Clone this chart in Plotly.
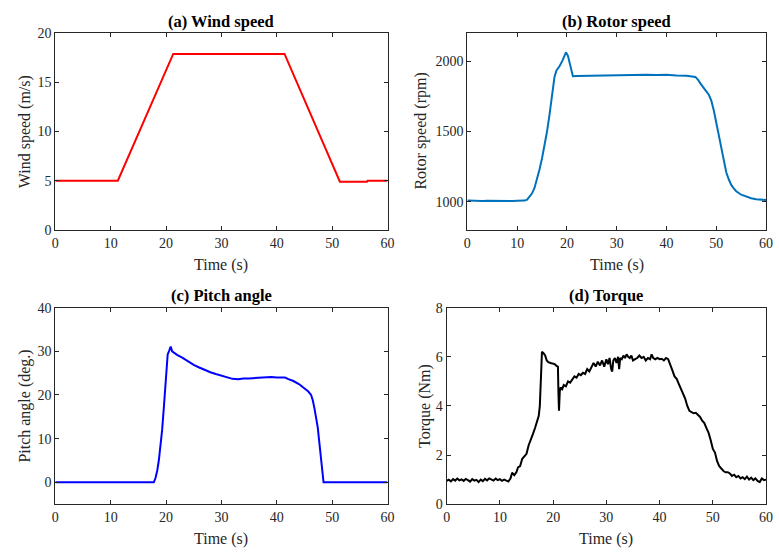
import plotly.graph_objects as go

# ---------------- data ----------------
wind_t = [0, 11.3, 21.3, 41.4, 51.4, 56.3, 56.4, 60]
wind_v = [5.0, 5.0, 17.9, 17.9, 4.9, 4.9, 5.0, 5.0]

rotor_t = [0, 1, 2, 3, 4, 5, 6, 7, 8, 9, 10, 11, 11.5, 12.0, 12.5, 13.0, 13.5, 14.0, 14.5, 15.0, 15.5,
           16.0, 16.5, 17.0, 17.5, 17.9, 18.5, 19.1, 19.5, 19.8, 20.2, 20.8, 21.2, 22, 24, 26, 28, 30.3,
           32, 34, 36, 38, 40, 42, 44, 45.8, 46.3, 46.8, 47.3, 47.8, 48.5, 49.0, 49.5, 50.0, 50.5, 51.0,
           51.5, 52.0, 52.5, 53.0, 53.5, 54.0, 55.0, 56.0, 57.0, 58.0, 60]
rotor_v = [1008, 1006, 1009, 1005, 1007, 1006, 1008, 1004, 1006, 1005, 1007, 1005, 1008, 1015, 1035, 1060, 1100, 1160, 1231, 1310, 1400,
           1500, 1620, 1760, 1889, 1935, 1965, 2005, 2045, 2064, 2039, 1947, 1894, 1895, 1897, 1896, 1898, 1900,
           1902, 1904, 1905, 1903, 1905, 1900, 1898, 1889, 1870, 1843, 1815, 1795, 1762, 1720, 1650, 1560, 1460, 1370,
           1280, 1210, 1160, 1120, 1095, 1075, 1050, 1035, 1025, 1018, 1012]

pitch_t = [0, 17.8, 18.1, 18.4, 18.7, 19.0, 19.3, 19.6, 19.9, 20.1, 20.3, 20.6, 20.85, 21.1, 21.3, 22, 23, 24,
           25, 26, 27, 28, 29, 30, 31, 32, 33, 34, 35, 36, 37, 38, 39, 40, 41, 41.5, 42, 43, 44, 45, 45.7,
           46.2, 46.5, 46.8, 47.1, 47.4, 47.7, 48.0, 48.3, 48.45, 60]
pitch_v = [0, 0, 1.0, 2.6, 5.0, 8.0, 12.0, 17.0, 23.0, 27.0, 29.3, 30.2, 31.1, 30.0, 29.8, 29.2, 28.5, 27.6,
           26.9, 26.3, 25.7, 25.2, 24.8, 24.4, 24.0, 23.7, 23.6, 23.8, 23.8, 23.9, 24.0, 24.0, 24.1, 24.0, 24.1, 24.0,
           23.7, 23.2, 22.5, 21.6, 20.8, 20.0, 18.8, 17.0, 15.0, 12.6, 9.0, 5.2, 1.5, 0, 0]

torque_t = [0, 0.4, 0.8, 1.2, 1.6, 2.0, 2.4, 2.8, 3.2, 3.6, 4.0, 4.4, 4.8, 5.2, 5.6, 6.0, 6.4, 6.8, 7.2, 7.6,
            8.0, 8.4, 8.8, 9.2, 9.6, 10.0, 10.4, 10.8, 11.2, 11.6,
            12.0, 12.3, 12.7, 13.1, 13.4, 13.8, 14.2, 14.6, 15.0, 15.4, 15.8, 16.2, 16.6, 17.0, 17.3, 17.5,
            17.7, 17.9, 18.2, 18.5, 18.8, 19.1, 19.5, 19.9, 20.3, 20.7, 20.9, 21.0, 21.1, 21.25, 21.4, 21.7,
            22.0, 22.4, 22.8, 23.2, 23.6, 24.0, 24.4, 24.8, 25.2, 25.6, 26.0, 26.4, 26.8, 27.2, 27.6, 28.0,
            28.4, 28.8, 29.2, 29.6, 30.0, 30.3, 30.6, 30.9, 31.1, 31.3, 31.6, 31.9, 32.2, 32.4, 32.6, 32.9,
            33.2, 33.5, 33.8, 34.1, 34.4, 34.7, 35.0, 35.4, 35.8, 36.2, 36.6, 37.0, 37.4, 37.8, 38.2, 38.5,
            38.8, 39.2, 39.6, 40.0, 40.4, 40.8, 41.2, 41.6, 42.0, 42.4, 42.8, 43.2, 43.6, 44.0, 44.4, 44.8,
            45.2, 45.6, 46.0, 46.4, 46.8, 47.2, 47.6, 48.0, 48.4, 48.8, 49.2, 49.6, 50.0, 50.4, 50.8, 51.2,
            51.6, 52.0, 52.4, 52.8, 53.2, 53.6, 54.0, 54.4, 54.8, 55.2, 55.6, 56.0, 56.4, 56.8, 57.2, 57.6,
            58.0, 58.4, 58.8, 59.2, 59.6, 60.0]
torque_v = [0.95, 1.0, 0.93, 1.02, 0.96, 1.04, 0.97, 1.01, 0.95, 1.03, 0.98, 0.92, 1.02, 0.96, 0.99, 0.9, 1.0, 0.94, 1.03, 0.97,
            1.05, 1.0, 0.96, 1.04, 0.98, 1.02, 0.95, 1.0, 0.97, 0.92,
            1.05, 1.28, 1.18, 1.3, 1.5, 1.55, 1.85, 1.95, 2.05, 2.4, 2.6, 2.85, 3.1, 3.4, 3.6, 4.0,
            5.5, 6.2, 6.15, 6.05, 5.85, 5.78, 5.75, 5.72, 5.7, 5.62, 5.6, 4.5, 3.8, 4.6, 4.75, 4.68,
            4.85, 4.8, 5.0, 4.95, 5.1, 5.2, 5.15, 5.3, 5.25, 5.35, 5.3, 5.5, 5.4, 5.6, 5.75, 5.6,
            5.8, 5.65, 5.85, 5.6, 5.9, 5.7, 5.95, 5.5, 5.4, 5.85, 5.95, 5.75, 6.0, 5.5, 5.95, 5.9,
            6.05, 5.95, 6.1, 6.0, 5.95, 6.05, 5.85, 5.9, 5.95, 6.05, 5.95, 6.0, 5.85, 5.95, 5.9, 6.1,
            5.95, 5.9, 5.95, 5.9, 5.92, 5.85, 5.95, 5.9, 5.7, 5.45, 5.2, 5.1, 4.9, 4.7, 4.5, 4.3,
            4.0, 3.8, 3.75, 3.7, 3.72, 3.65, 3.55, 3.4, 3.3, 3.1, 2.9, 2.6, 2.25, 2.1, 1.75, 1.55,
            1.45, 1.35, 1.3, 1.3, 1.25, 1.15, 1.2, 1.1, 1.15, 1.05, 1.1, 1.02, 1.12, 1.0, 1.08, 0.98,
            1.05, 0.95, 0.9, 1.05, 0.98, 1.0]

x_ticks = [0, 10, 20, 30, 40, 50, 60]
wind_ticks = [0, 5, 10, 15, 20]
rotor_ticks = [1000, 1500, 2000]
pitch_ticks = [0, 10, 20, 30, 40]
torque_ticks = [0, 2, 4, 6, 8]

titles = ["<b>(a) Wind speed</b>", "<b>(b) Rotor speed</b>", "<b>(c) Pitch angle</b>", "<b>(d) Torque</b>"]
ylabels = ["Wind speed (m/s)", "Rotor speed (rpm)", "Pitch angle (deg.)", "Torque (Nm)"]

# ---------------- figure ----------------
W, H = 779, 555
FONT = "Liberation Serif, Times New Roman, serif"
AX = "#262626"

# plot areas in pixels: (left, right, top, bottom)
boxes = [(52, 389, 27, 229), (470, 773, 27, 229), (52, 389, 309, 511), (449, 773, 309, 511)]

fig = go.Figure()
series = [(wind_t, wind_v, "#FF0000"), (rotor_t, rotor_v, "#0072BD"),
          (pitch_t, pitch_v, "#0000FF"), (torque_t, torque_v, "#000000")]
yranges = [[0, 20], [800, 2200], [-5, 40], [0, 8]]
yticks = [wind_ticks, rotor_ticks, pitch_ticks, torque_ticks]
ylabel_x = [21, 423, 21, 427]

layout = dict(width=W, height=H, margin=dict(l=0, r=0, t=0, b=0),
              paper_bgcolor="white", plot_bgcolor="white", showlegend=False,
              font=dict(family=FONT, size=14, color=AX))
annotations = []
for i, ((l, r, t, b), (xs, ys, c)) in enumerate(zip(boxes, series)):
    n = "" if i == 0 else str(i + 1)
    fig.add_trace(go.Scatter(x=xs, y=ys, mode="lines", line=dict(color=c, width=2),
                             xaxis="x" + n, yaxis="y" + n))
    common = dict(showgrid=False, zeroline=False, showline=True, linecolor=AX, linewidth=1,
                  mirror="ticks", ticks="inside", ticklen=4, tickcolor=AX,
                  ticklabeloverflow="allow",
                  tickfont=dict(family=FONT, size=14, color=AX))
    layout["xaxis" + n] = dict(domain=[l / W, r / W], range=[0, 60], tickvals=x_ticks,
                               anchor="y" + n, **common)
    layout["yaxis" + n] = dict(domain=[1 - b / H, 1 - t / H], range=yranges[i], tickvals=yticks[i],
                               anchor="x" + n, **common)
    cx = (l + r) / 2
    annotations.append(dict(text=titles[i], x=cx / W, y=1 - (t - 12) / H, xref="paper", yref="paper",
                            showarrow=False, font=dict(family=FONT, size=16.5, color="#000000"),
                            xanchor="center", yanchor="middle"))
    annotations.append(dict(text="Time (s)", x=cx / W, y=1 - (b + 36) / H, xref="paper", yref="paper",
                            showarrow=False, font=dict(family=FONT, size=16, color=AX),
                            xanchor="center", yanchor="middle"))
    annotations.append(dict(text=ylabels[i], x=ylabel_x[i] / W, y=1 - (t + b) / 2 / H, xref="paper",
                            yref="paper", showarrow=False, textangle=-90,
                            font=dict(family=FONT, size=16, color=AX), xanchor="center", yanchor="middle"))
layout["annotations"] = annotations
fig.update_layout(**layout)
fig.write_html("out.html", config={"displayModeBar": False},
               post_script="document.body.style.margin='0';document.body.style.overflow='hidden';")
